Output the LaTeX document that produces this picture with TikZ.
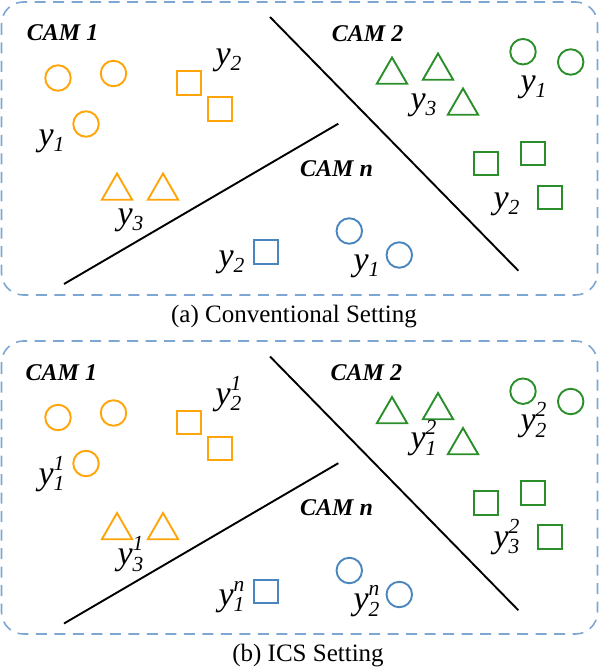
\documentclass[tikz,border=0pt]{standalone}
\usepackage{fontspec}
\setmainfont{Liberation Serif}
\usetikzlibrary{shapes.geometric}
\definecolor{orng}{HTML}{FFA50A}
\definecolor{grn}{HTML}{2A8F2A}
\definecolor{blu}{HTML}{4A86BE}
\definecolor{dsh}{HTML}{7DA6D2}
\newcommand{\ylab}[2]{\fontsize{34}{34}\selectfont\textit{y}\kern-0.3pt\rlap{\raisebox{-6.5pt}{\fontsize{21.5}{21.5}\selectfont\textit{#1}}}\raisebox{14pt}{\fontsize{21.5}{21.5}\selectfont\textit{#2}}}
\newcommand{\camtxt}[1]{CAM\hspace{6pt}#1}
\tikzset{
 panel/.style={draw=dsh,line width=1.6pt,dash pattern=on 11pt off 7.5pt,rounded corners=22pt},
 sepline/.style={draw=black,line width=1.9pt},
 circ/.style={draw=#1,circle,line width=1.9pt,minimum size=25.5pt,inner sep=0pt,outer sep=0pt},
 sq/.style={draw=#1,rectangle,line width=1.98pt,minimum size=23.5pt,inner sep=0pt,outer sep=0pt},
 tri/.style={draw=#1,regular polygon,regular polygon sides=3,line width=1.9pt,minimum size=35pt,inner sep=0pt,outer sep=0pt},
 ylabel/.style={anchor=base west,inner sep=0pt,text=black},
 camlabel/.style={anchor=base west,inner sep=0pt,font=\fontsize{24}{24}\selectfont\bfseries\itshape},
 captext/.style={anchor=base,inner sep=0pt,font=\fontsize{25}{25}\selectfont},
}
\newcommand{\shapeset}[1]{%
 \node[circ=orng] (#1oc1) at (58,78) {};
 \node[circ=orng] (#1oc2) at (113.5,73.5) {};
 \node[circ=orng] (#1oc3) at (86,124) {};
 \node[sq=orng] (#1os1) at (189,83) {};
 \node[sq=orng] (#1os2) at (220,109) {};
 \node[tri=orng] (#1ot1) at (117,191) {};
 \node[tri=orng] (#1ot2) at (163,191) {};
 \node[tri=grn] (#1gt1) at (392,75) {};
 \node[tri=grn] (#1gt2) at (438,71) {};
 \node[tri=grn] (#1gt3) at (463,106) {};
 \node[circ=grn] (#1gc1) at (523,51.7) {};
 \node[circ=grn] (#1gc2) at (570.7,62) {};
 \node[sq=grn] (#1gs1) at (486,163.5) {};
 \node[sq=grn] (#1gs2) at (533,153.7) {};
 \node[sq=grn] (#1gs3) at (550.2,197.7) {};
 \node[circ=blu] (#1bc1) at (349.3,231) {};
 \node[circ=blu] (#1bc2) at (399.3,255) {};
 \node[sq=blu] (#1bs1) at (265.8,252) {};
 \coordinate (#1l1s) at (270,17);
 \coordinate (#1l1e) at (518.3,270.7);
 \coordinate (#1l2s) at (64,284);
 \coordinate (#1l2e) at (338.3,123.7);
 \draw[sepline] (#1l1s) -- (#1l1e);
 \draw[sepline] (#1l2s) -- (#1l2e);
}
\begin{document}
\begin{tikzpicture}[x=1pt,y=-1pt]
\useasboundingbox (0,0) rectangle (600,668);
% panel (a)
\draw[panel] (1.5,2) rectangle (597.5,295);
\shapeset{a}
\node[camlabel] (acam1) at (26.7,40.7) {\camtxt{1}};
\node[camlabel] (acam2) at (331.7,41.3) {\camtxt{2}};
\node[camlabel] (acamn) at (300,176.7) {\camtxt{\textit{n}}};
\node[ylabel] (ay1) at (38.5,145.3) {\ylab{1}{}};
\node[ylabel] (ay2) at (215.5,64.3) {\ylab{2}{}};
\node[ylabel] (ay3) at (117.5,224.3) {\ylab{3}{}};
\node[ylabel] (by2) at (218.5,266.3) {\ylab{2}{}};
\node[ylabel] (gy3) at (410.5,109.3) {\ylab{3}{}};
\node[ylabel] (gy1) at (520.5,91.3) {\ylab{1}{}};
\node[ylabel] (gy2) at (493.5,208.3) {\ylab{2}{}};
\node[ylabel] (by1) at (353.5,270.3) {\ylab{1}{}};
\node[captext] (capa) at (294,322.7) {(a) Conventional Setting};
% panel (b)
\draw[panel] (1.5,341) rectangle (597.5,634);
\begin{scope}[yshift=-339.5pt]
\shapeset{b}
\end{scope}
\node[camlabel] (bcam1) at (25.5,380.3) {\camtxt{1}};
\node[camlabel] (bcam2) at (330.5,380.3) {\camtxt{2}};
\node[camlabel] (bcamn) at (300,515.3) {\camtxt{\textit{n}}};
\node[ylabel] (by21) at (215.5,404) {\ylab{2}{1}};
\node[ylabel] (by11) at (38.5,484.3) {\ylab{1}{1}};
\node[ylabel] (by31) at (117.5,564.6) {\ylab{3}{1}};
\node[ylabel] (by1n) at (218.5,605.3) {\ylab{1}{n}};
\node[ylabel] (by12) at (410.5,448.6) {\ylab{1}{2}};
\node[ylabel] (by22) at (520.5,430.6) {\ylab{2}{2}};
\node[ylabel] (by32) at (493.5,547.3) {\ylab{3}{2}};
\node[ylabel] (by2n) at (353.5,609.6) {\ylab{2}{n}};
\node[captext] (capb) at (308,661) {(b) ICS Setting};
\end{tikzpicture}
\end{document}
